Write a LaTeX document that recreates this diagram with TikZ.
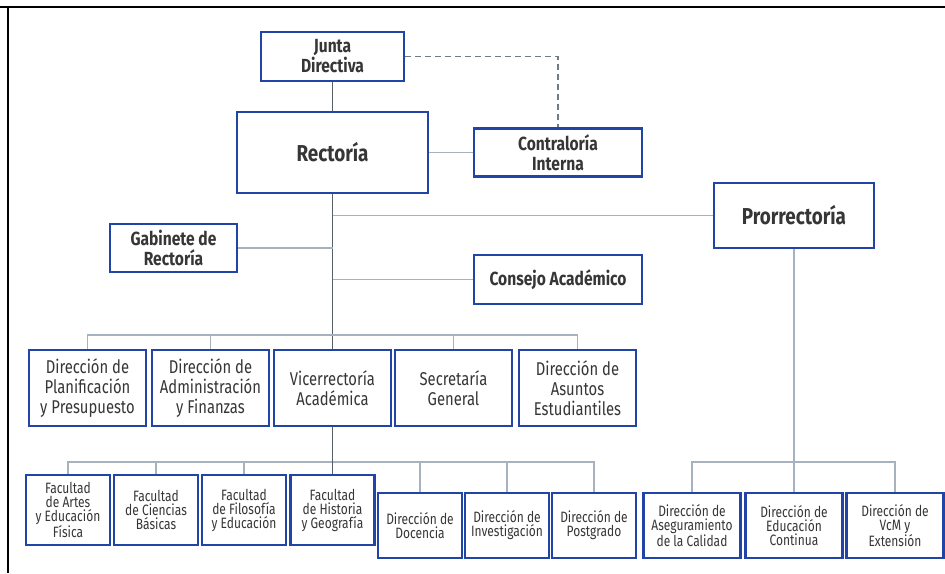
\documentclass[tikz,border=0pt]{standalone}
\usepackage{fontspec}
\usetikzlibrary{backgrounds}
\setmainfont{Fira Sans}
\newfontfamily\condfont[FakeStretch=0.80]{Fira Sans}
\newfontfamily\topfont[FakeStretch=0.82]{Fira Sans}
\definecolor{boxblue}{HTML}{2244A6}
\definecolor{txtgray}{HTML}{363636}
\definecolor{trunkgray}{HTML}{56606A}
\definecolor{buslight}{HTML}{A6B2BE}
\definecolor{dashgray}{HTML}{6E7A86}
\tikzset{
  orgbox/.style={draw=boxblue, line width=2.4pt, fill=white, rectangle, align=center,
    text=txtgray, inner sep=0pt},
  topbox/.style={orgbox, font=\topfont\bfseries\fontsize{19}{20}\selectfont},
  bigbox/.style={orgbox, font=\topfont\bfseries\fontsize{23}{26}\selectfont},
  midbox/.style={orgbox, minimum width=117pt, minimum height=76pt,
    font=\condfont\fontsize{18.5}{20}\selectfont},
  lowbox/.style={orgbox, minimum width=84pt,
    font=\condfont\fontsize{15}{14}\selectfont},
  rightbox/.style={orgbox, minimum width=97pt, minimum height=65pt,
    font=\condfont\fontsize{15}{14}\selectfont},
  trunk/.style={draw=trunkgray, line width=1.3pt},
  bus/.style={draw=buslight, line width=1.8pt},
  dashline/.style={draw=dashgray, line width=1.2pt, dash pattern=on 6pt off 4pt},
}
\begin{document}
\begin{tikzpicture}[x=1pt,y=-1pt]
\useasboundingbox (0,0) rectangle (945,573);
% frame
\draw[black, line width=2pt] (0,7) -- (945,7);
\draw[black, line width=2.2pt] (8,7) -- (8,573);

% top level
\node[topbox, minimum width=143pt, minimum height=49pt] (junta) at (332.5,56.5) {Junta\\Directiva};
\node[bigbox, minimum width=191pt, minimum height=81pt] (rect) at (332.5,152.5) {Rectoría};
\node[topbox, minimum width=168pt, minimum height=48pt] (contra) at (558,152.5) {Contraloría\\Interna};
\node[bigbox, minimum width=160pt, minimum height=65pt] (prorr) at (794,215.5) {Prorrectoría};
\node[topbox, minimum width=127pt, minimum height=48pt] (gab) at (173.5,248) {Gabinete de\\Rectoría};
\node[topbox, minimum width=168pt, minimum height=49pt] (consejo) at (558,279.5) {Consejo Académico};

% row 2
\node[midbox] (p1) at (87.5,388) {Dirección de\\Planificación\\y Presupuesto};
\node[midbox] (p2) at (210.5,388) {Dirección de\\Administración\\y Finanzas};
\node[midbox] (p3) at (332.5,388) {Vicerrectoría\\Académica};
\node[midbox] (p4) at (453.5,388) {Secretaría\\General};
\node[midbox] (p5) at (577.5,388) {Dirección de\\Asuntos\\Estudiantiles};

% row 3
\node[lowbox, minimum height=70pt] (f1) at (68,510) {Facultad\\de Artes\\y Educación\\Física};
\node[lowbox, minimum height=70pt] (f2) at (156,510) {Facultad\\de Ciencias\\Básicas};
\node[lowbox, minimum height=70pt] (f3) at (244,510) {Facultad\\de Filosofía\\y Educación};
\node[lowbox, minimum height=70pt] (f4) at (332.5,510) {Facultad\\de Historia\\y Geografía};
\node[lowbox, minimum height=65pt] (d1) at (420,525.5) {Dirección de\\Docencia};
\node[lowbox, minimum height=65pt] (d2) at (507,525.5) {Dirección de\\Investigación};
\node[lowbox, minimum height=65pt] (d3) at (594,525.5) {Dirección de\\Postgrado};

\node[rightbox] (r1) at (692,525.5) {Dirección de\\Aseguramiento\\de la Calidad};
\node[rightbox] (r2) at (794,525.5) {Dirección de\\Educación\\Continua};
\node[rightbox] (r3) at (895,525.5) {Dirección de\\VcM y\\Extensión};

\coordinate (bus2) at (0,335);
\coordinate (bus3) at (0,462);

\begin{scope}[on background layer]
  % upper connectors
  \draw[trunk] (junta.south) -- (rect.north);
  \draw[dashline] (junta.east) -- (junta.east -| contra.north) -- (contra.north);
  \draw[bus] (rect.east) -- (rect.east -| contra.west);
  \draw[trunk] (rect.south) -- (p3.north);
  \draw[bus] (prorr.west -| rect.south) -- (prorr.west);
  \draw[bus] (gab.east) -- (gab.east -| rect.south);
  \draw[bus] (consejo.west -| rect.south) -- (consejo.west);
  % row 2 bus
  \draw[bus] (p1.north) -- (p1.north |- bus2) -- (p5.north |- bus2) -- (p5.north);
  \draw[bus] (p2.north) -- (p2.north |- bus2);
  \draw[bus] (p4.north) -- (p4.north |- bus2);
  % row 3 bus (Vicerrectoría)
  \draw[bus] (f1.north) -- (f1.north |- bus3) -- (d3.north |- bus3) -- (d3.north);
  \foreach \n in {f2,f3,d1,d2} \draw[bus] (\n.north) -- (\n.north |- bus3);
  \draw[trunk] (p3.south) -- (f4.north);
  % Prorrectoría group
  \draw[bus] (prorr.south) -- (r2.north);
  \draw[bus] (r1.north) -- (r1.north |- bus3) -- (r3.north |- bus3) -- (r3.north);
\end{scope}
\end{tikzpicture}
\end{document}
